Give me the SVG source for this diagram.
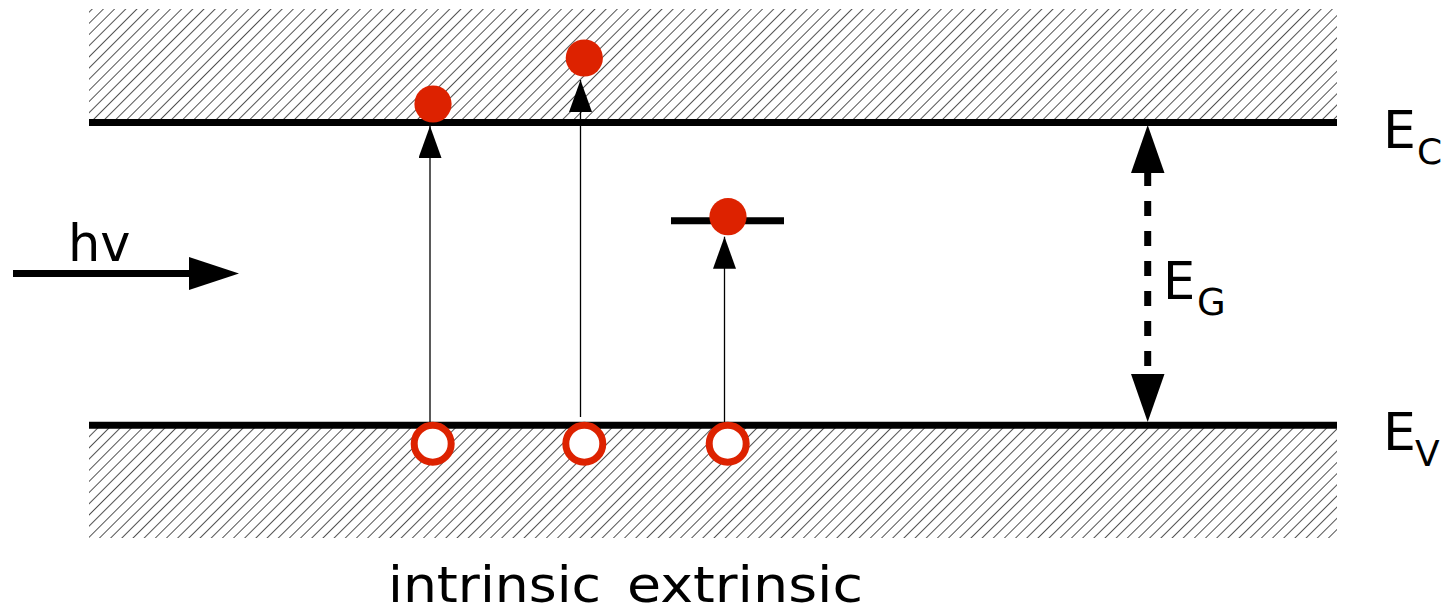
<svg xmlns="http://www.w3.org/2000/svg" width="1448" height="609" viewBox="0 0 1448 609">
  <defs>
    <pattern id="hatch" patternUnits="userSpaceOnUse" width="7.9" height="7.9" patternTransform="rotate(45)">
      <line x1="0" y1="0" x2="0" y2="7.9" stroke="#1a1a1a" stroke-width="1.5"/>
    </pattern>
    <marker id="headThin" viewBox="0 0 32 23" refX="32" refY="11.5" markerWidth="32" markerHeight="23" markerUnits="userSpaceOnUse" orient="auto">
      <path d="M0,0 L32,11.5 L0,23 Z" fill="#000"/>
    </marker>
  </defs>
  <style>
    .level { stroke: #000; stroke-width: 7; fill: none; }
    .thin { stroke: #000; stroke-width: 1.3; fill: none; }
    .electron { fill: #dd2200; }
    .hole { fill: #fff; stroke: #dd2200; stroke-width: 7; }
    .lbl { font-family: "DejaVu Sans", Verdana, sans-serif; fill: #000; }
  </style>
  <rect width="1448" height="609" fill="#fff"/>

  <g id="conduction-band">
    <rect x="89" y="9" width="1248" height="111" fill="url(#hatch)"/>
    <line class="level" x1="89" y1="122.5" x2="1337" y2="122.5"/>
  </g>
  <g id="valence-band">
    <rect x="89" y="428" width="1248" height="110" fill="url(#hatch)"/>
    <line class="level" x1="89" y1="425.3" x2="1337" y2="425.3"/>
  </g>
  <g id="donor-level">
    <line class="level" x1="671" y1="220.7" x2="784" y2="220.7"/>
  </g>

  <g id="connectors">
    <line class="thin" x1="430" y1="424" x2="430" y2="126" marker-end="url(#headThin)"/>
    <line class="thin" x1="580.5" y1="417" x2="580.5" y2="80" marker-end="url(#headThin)"/>
    <line class="thin" x1="724.5" y1="424" x2="724.5" y2="236.7" marker-end="url(#headThin)"/>
    <g id="hv-arrow">
      <line x1="13" y1="273.5" x2="192" y2="273.5" stroke="#000" stroke-width="7"/>
      <path d="M189,257 L239,273.5 L189,290 Z" fill="#000"/>
    </g>
    <g id="eg-arrow">
      <line x1="1147.7" y1="171" x2="1147.7" y2="374" stroke="#000" stroke-width="7" stroke-dasharray="15 15"/>
      <path d="M1147.7,125 L1164.5,173 L1131,173 Z" fill="#000"/>
      <path d="M1147.7,422 L1164.5,374 L1131,374 Z" fill="#000"/>
    </g>
  </g>

  <g id="electrons">
    <circle class="electron" cx="433" cy="104" r="18.6"/>
    <circle class="electron" cx="584.3" cy="58" r="18.6"/>
    <circle class="electron" cx="728" cy="216.7" r="18.6"/>
  </g>
  <g id="holes">
    <circle class="hole" cx="432.7" cy="443.7" r="18.5"/>
    <circle class="hole" cx="584.3" cy="443.7" r="18.5"/>
    <circle class="hole" cx="727.7" cy="443.7" r="18.5"/>
  </g>

  <g id="labels">
    <text class="lbl" x="68" y="261" font-size="51">hv</text>
    <text class="lbl" x="1383" y="148.3" font-size="52">E</text>
    <text class="lbl" x="1417" y="164" font-size="36">C</text>
    <text class="lbl" x="1383" y="450" font-size="52">E</text>
    <text class="lbl" x="1415" y="466" font-size="36">V</text>
    <text class="lbl" x="1163" y="299" font-size="51">E</text>
    <text class="lbl" x="1197" y="315" font-size="37">G</text>
    <text class="lbl" x="388" y="601.5" font-size="49" textLength="213" lengthAdjust="spacingAndGlyphs">intrinsic</text>
    <text class="lbl" x="627" y="601.5" font-size="49" textLength="236" lengthAdjust="spacingAndGlyphs">extrinsic</text>
  </g>
</svg>
